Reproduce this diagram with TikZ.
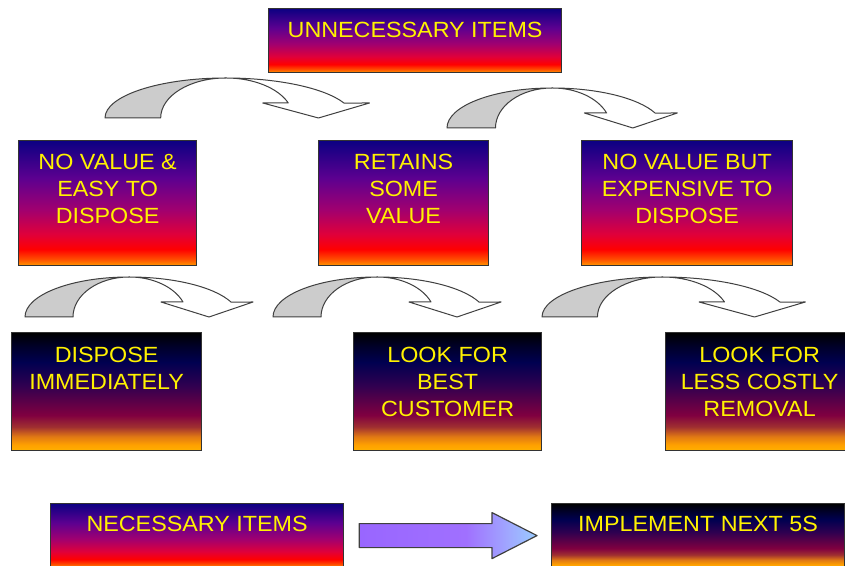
\documentclass[tikz,border=0pt]{standalone}
\usepackage{fontspec}
\newfontfamily\boxfont[FakeStretch=1.06]{Liberation Sans}
\usetikzlibrary{calc}

\definecolor{aA}{HTML}{0C0082}
\definecolor{aB}{HTML}{5C0090}
\definecolor{aC}{HTML}{A00070}
\definecolor{aD}{HTML}{E0003A}
\definecolor{aE}{HTML}{FF0000}
\definecolor{aF}{HTML}{FF5000}
\definecolor{aG}{HTML}{FF9900}

\definecolor{bA}{HTML}{000000}
\definecolor{bB}{HTML}{00002A}
\definecolor{bC}{HTML}{000050}
\definecolor{bD}{HTML}{300050}
\definecolor{bE}{HTML}{800040}
\definecolor{bF}{HTML}{A03030}
\definecolor{bG}{HTML}{E07814}
\definecolor{bH}{HTML}{FFA000}
\definecolor{bI}{HTML}{FFB000}

\definecolor{pA}{HTML}{9966FF}
\definecolor{pB}{HTML}{A070FF}
\definecolor{pC}{HTML}{A0A8FF}
\definecolor{pD}{HTML}{99CCFF}

\pgfdeclareverticalshading{sunA}{100bp}{color(0bp)=(aG); color(25bp)=(aG); color(27.5bp)=(aF); color(31.5bp)=(aE); color(37.5bp)=(aD); color(47.5bp)=(aC); color(60bp)=(aB); color(75bp)=(aA); color(100bp)=(aA)}
\pgfdeclareverticalshading{sunB}{100bp}{color(0bp)=(bI); color(25bp)=(bI); color(27.5bp)=(bH); color(31bp)=(bG); color(35bp)=(bF); color(40bp)=(bE); color(52.5bp)=(bD); color(62.5bp)=(bC); color(69bp)=(bB); color(75bp)=(bA); color(100bp)=(bA)}
\pgfdeclarehorizontalshading{arrsh}{100bp}{color(0bp)=(pA); color(25bp)=(pA); color(55bp)=(pB); color(67bp)=(pC); color(75bp)=(pD); color(100bp)=(pD)}

\tikzset{
  boxA/.style={rectangle, draw=black!80, line width=1.2pt, shade, shading=sunA, inner sep=0pt, anchor=north west},
  boxB/.style={rectangle, draw=black!80, line width=1.2pt, shade, shading=sunB, inner sep=0pt, anchor=north west},
  lbl/.style={text=yellow, font=\boxfont\fontsize{22}{27}\selectfont, align=center, inner sep=0pt, anchor=north},
  cgrey/.style={draw=black!75, line width=1pt, line join=round, fill=black!20},
  cwhite/.style={draw=black!75, line width=1pt, line join=round, fill=white},
  barrow/.style={draw=black!75, line width=1.2pt, line join=round, shading=arrsh}
}

\newcommand\mycurvarrow[3]{%
\begin{scope}[shift={(#1,#2)}, xscale=#3]
\draw[cwhite] (104,40) arc[start angle=90, end angle=22, x radius=110pt, y radius=40pt]
   -- (228,15) -- (184,0) -- (136,15) -- (158,15)
   arc[start angle=22, end angle=90, x radius=58pt, y radius=40pt] -- cycle;
\draw[cgrey] (0,0) arc[start angle=180, end angle=90, x radius=104pt, y radius=40pt]
   arc[start angle=90, end angle=180, x radius=56pt, y radius=40pt] -- cycle;
\end{scope}}

\begin{document}
\begin{tikzpicture}[x=1pt,y=1pt]
\useasboundingbox (0,0) rectangle (845,565);
\fill[white] (0,0) rectangle (845,565);

% row 1
\node[boxA, minimum width=293pt, minimum height=64pt] (top) at (268,557) {};
\node[lbl] (topT) at ([yshift=-14pt]top.north) {UNNECESSARY ITEMS};

% row 2
\node[boxA, minimum width=178pt, minimum height=125pt] (r2a) at (18,425) {};
\node[boxA, minimum width=170pt, minimum height=125pt] (r2b) at (318,425) {};
\node[boxA, minimum width=211pt, minimum height=125pt] (r2c) at (581,425) {};
\node[lbl] (r2aT) at ([yshift=-14pt]r2a.north) {NO VALUE \&\\EASY TO\\DISPOSE};
\node[lbl] (r2bT) at ([yshift=-14pt]r2b.north) {RETAINS\\SOME\\VALUE};
\node[lbl] (r2cT) at ([yshift=-14pt]r2c.north) {NO VALUE BUT\\EXPENSIVE TO\\DISPOSE};

% row 3
\node[boxB, minimum width=190pt, minimum height=118pt] (r3a) at (11,233) {};
\node[boxB, minimum width=188pt, minimum height=118pt] (r3b) at (353,233) {};
\node[boxB, minimum width=188pt, minimum height=118pt] (r3c) at (665,233) {};
\node[lbl] (r3aT) at ([yshift=-15pt]r3a.north) {DISPOSE\\IMMEDIATELY};
\node[lbl] (r3bT) at ([yshift=-15pt]r3b.north) {LOOK FOR\\BEST\\CUSTOMER};
\node[lbl] (r3cT) at ([yshift=-15pt]r3c.north) {LOOK FOR\\LESS COSTLY\\REMOVAL};

% row 4
\node[boxA, minimum width=293pt, minimum height=64pt] (nec) at (50,62) {};
\node[boxB, minimum width=293pt, minimum height=64pt] (impl) at (551,62) {};
\node[lbl] (necT) at ([yshift=-13pt]nec.north) {NECESSARY ITEMS};
\node[lbl] (implT) at ([yshift=-13pt]impl.north) {IMPLEMENT NEXT 5S};

% curved arrows
\mycurvarrow{105}{447}{1.16}
\mycurvarrow{447}{437}{1.01}
\mycurvarrow{25}{248}{1.0}
\mycurvarrow{273}{248}{1.0}
\mycurvarrow{542}{248}{1.155}

% block arrow
\coordinate (s0) at ([xshift=15pt]nec.east);
\coordinate (t0) at ([xshift=-14pt]impl.west);
\shade[barrow, draw] ($(s0)+(0,12)$) -- ($(t0)+(-45,12)$) -- ($(t0)+(-45,23)$) -- (t0)
   -- ($(t0)+(-45,-23)$) -- ($(t0)+(-45,-12)$) -- ($(s0)+(0,-12)$) -- cycle;
\end{tikzpicture}
\end{document}
